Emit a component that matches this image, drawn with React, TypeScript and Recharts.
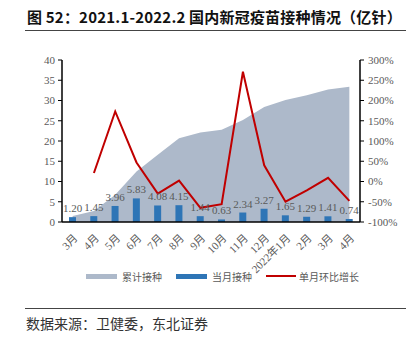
import React from "react";
import {
  ComposedChart,
  Area,
  Bar,
  Line,
  XAxis,
  YAxis,
  LabelList,
} from "recharts";

const months = ["3月", "4月", "5月", "6月", "7月", "8月", "9月", "10月", "11月", "12月", "2022年1月", "2月", "3月", "4月"];
const cumulative = [1.5, 2.7, 6.7, 12.5, 16.6, 20.7, 22.1, 22.8, 25.2, 28.4, 30.1, 31.3, 32.7, 33.4];
const monthly = [1.2, 1.45, 3.96, 5.83, 4.08, 4.15, 1.44, 0.63, 2.34, 3.27, 1.65, 1.29, 1.41, 0.74];
const momGrowth = [null, 21, 173, 47, -30, 2, -65, -56, 271, 40, -50, -22, 9, -48];
const leftTicks = [0, 5, 10, 15, 20, 25, 30, 35, 40];
const rightTicks = [-100, -50, 0, 50, 100, 150, 200, 250, 300];

const data = months.map((m, i) => ({
  month: m,
  cumulative: cumulative[i],
  monthly: monthly[i],
  growth: momGrowth[i],
}));

const serif = '"Liberation Serif", "Noto Sans CJK SC", serif';
const cjk = '"Noto Sans CJK SC", sans-serif';

const XTick = ({ x, y, payload }: any) => (
  <g transform={`translate(${x + 3},${y + 6})`}>
    <text
      textAnchor="end"
      transform="rotate(-45)"
      dy="0.35em"
      fill="#595959"
      fontSize={11}
      fontFamily={serif}
    >
      {payload.value}
    </text>
  </g>
);

export default function App() {
  return (
    <div style={{ position: "absolute", left: 0, top: 0, width: 420, height: 339, background: "#fff" }}>
      <div
        style={{
          position: "absolute",
          left: 27,
          top: 6,
          fontFamily: cjk,
          fontWeight: 700,
          fontSize: 15,
          letterSpacing: 0.2,
          whiteSpace: "nowrap",
          color: "#111",
        }}
      >
        图 52：2021.1-2022.2 国内新冠疫苗接种情况（亿针）
      </div>
      <div style={{ position: "absolute", left: 25, top: 30, width: 381, height: 1, background: "#444" }} />

      <ComposedChart
        width={420}
        height={339}
        data={data}
        margin={{ top: 60, right: 0, left: 32, bottom: 57 }}
        style={{ position: "absolute", left: 0, top: 0 }}
      >
        <XAxis
          dataKey="month"
          height={60}
          interval={0}
          tick={<XTick />}
          tickLine={false}
          axisLine={{ stroke: "#000", strokeWidth: 1.5 }}
        />
        <YAxis
          yAxisId="left"
          width={30}
          domain={[0, 40]}
          ticks={leftTicks}
          interval={0}
          tickSize={4}
          tickMargin={3}
          axisLine={{ stroke: "#000", strokeWidth: 1.5 }}
          tickLine={{ stroke: "#000" }}
          tick={{ fill: "#595959", fontSize: 11, fontFamily: serif }}
        />
        <YAxis
          yAxisId="right"
          orientation="right"
          width={60}
          domain={[-100, 300]}
          ticks={rightTicks}
          interval={0}
          tickSize={4}
          tickMargin={4}
          tickFormatter={(v) => `${v}%`}
          axisLine={{ stroke: "#000", strokeWidth: 1.5 }}
          tickLine={{ stroke: "#000" }}
          tick={{ fill: "#595959", fontSize: 11, fontFamily: serif }}
        />
        <Area
          yAxisId="left"
          type="linear"
          dataKey="cumulative"
          stroke="none"
          fill="#ADB9CA"
          fillOpacity={1}
          isAnimationActive={false}
        />
        <Bar yAxisId="left" dataKey="monthly" fill="#2E75B6" barSize={7} isAnimationActive={false}>
          <LabelList
            dataKey="monthly"
            position="top"
            offset={5}
            formatter={(v: any) => Number(v).toFixed(2)}
            fill="#595959"
            fontSize={11}
            fontFamily={serif}
          />
        </Bar>
        <Line
          yAxisId="right"
          type="linear"
          dataKey="growth"
          stroke="#C00000"
          strokeWidth={2}
          dot={false}
          connectNulls={false}
          isAnimationActive={false}
        />
      </ComposedChart>

      <div style={{ position: "absolute", left: 86, top: 274, width: 31, height: 5, background: "#ADB9CA" }} />
      <div style={{ position: "absolute", left: 122, top: 269, fontFamily: cjk, fontSize: 10, color: "#595959", whiteSpace: "nowrap" }}>累计接种</div>
      <div style={{ position: "absolute", left: 176, top: 274, width: 31, height: 5, background: "#2E75B6" }} />
      <div style={{ position: "absolute", left: 212, top: 269, fontFamily: cjk, fontSize: 10, color: "#595959", whiteSpace: "nowrap" }}>当月接种</div>
      <div style={{ position: "absolute", left: 266, top: 275, width: 30, height: 2, background: "#C00000" }} />
      <div style={{ position: "absolute", left: 299, top: 269, fontFamily: cjk, fontSize: 10, color: "#595959", whiteSpace: "nowrap" }}>单月环比增长</div>

      <div style={{ position: "absolute", left: 25, top: 308, width: 381, height: 1, background: "#444" }} />
      <div style={{ position: "absolute", left: 26, top: 313, fontFamily: cjk, fontSize: 14, color: "#333", whiteSpace: "nowrap" }}>
        数据来源：卫健委，东北证券
      </div>
    </div>
  );
}
